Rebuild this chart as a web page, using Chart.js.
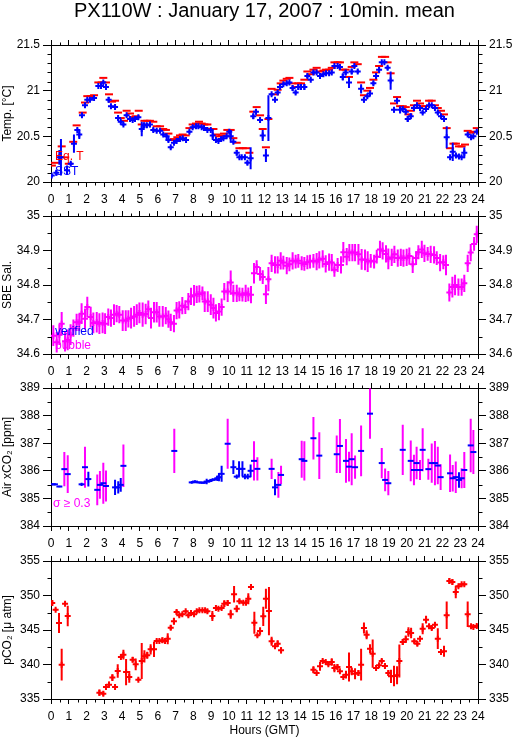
<!DOCTYPE html>
<html><head><meta charset="utf-8">
<script src="https://cdn.jsdelivr.net/npm/chart.js@4/dist/chart.umd.min.js"></script>
<style>
html,body{margin:0;padding:0;background:#fff;}
body{width:515px;height:739px;position:relative;overflow:hidden;}
canvas{position:absolute;left:0;}
</style></head><body>
<canvas id="c1" style="top:0px;width:515px;height:205px" width="515" height="205"></canvas>
<canvas id="c2" style="top:205px;width:515px;height:172px" width="515" height="172"></canvas>
<canvas id="c3" style="top:377px;width:515px;height:172px" width="515" height="172"></canvas>
<canvas id="c4" style="top:549px;width:515px;height:190px" width="515" height="190"></canvas>
<script>
// ---------- DATA (hour GMT, value, sigma) ----------
const sst = [[0.04,20.07,0.015],[0.3,20.1,0.03],[0.47,20.27,0.08],[0.56,20.27,0.2],[0.9,20.13,0.05],[1.11,20.2,0.015],[1.29,20.42,0.1],[1.48,20.57,0.015],[1.59,20.52,0.05],[1.74,20.73,0.02],[1.91,20.84,0.02],[2.04,20.9,0.015],[2.19,20.9,0.015],[2.42,20.92,0.015],[2.66,21.05,0.01],[2.81,21.05,0.01],[2.94,21.09,0.01],[3.09,21.04,0.015],[3.24,20.9,0.03],[3.37,20.83,0.015],[3.6,20.82,0.02],[3.77,20.7,0.02],[3.92,20.66,0.015],[4.07,20.63,0.015],[4.25,20.73,0.015],[4.44,20.69,0.015],[4.59,20.68,0.015],[4.72,20.69,0.015],[4.91,20.71,0.015],[5.1,20.58,0.08],[5.23,20.62,0.03],[5.38,20.62,0.03],[5.56,20.63,0.03],[5.75,20.57,0.02],[5.94,20.56,0.015],[6.13,20.56,0.015],[6.31,20.52,0.015],[6.5,20.5,0.015],[6.6,20.46,0.02],[6.73,20.38,0.015],[6.91,20.43,0.015],[7.06,20.45,0.015],[7.25,20.47,0.015],[7.4,20.48,0.015],[7.59,20.46,0.015],[7.78,20.55,0.015],[7.96,20.6,0.015],[8.15,20.61,0.01],[8.28,20.61,0.01],[8.47,20.6,0.01],[8.6,20.59,0.01],[8.79,20.57,0.015],[8.98,20.57,0.015],[9.09,20.51,0.05],[9.27,20.46,0.015],[9.41,20.45,0.015],[9.56,20.47,0.015],[9.69,20.48,0.015],[9.87,20.5,0.015],[10.02,20.55,0.02],[10.1,20.5,0.07],[10.25,20.44,0.015],[10.44,20.32,0.03],[10.59,20.27,0.01],[10.72,20.27,0.01],[10.9,20.27,0.01],[11.04,20.21,0.02],[11.22,20.26,0.12],[11.37,20.72,0.03],[11.52,20.77,0.03],[11.75,20.68,0.02],[11.9,20.51,0.06],[12.08,20.29,0.07],[12.22,20.7,0.25],[12.4,20.96,0.015],[12.59,20.9,0.02],[12.74,20.98,0.02],[12.87,21.04,0.015],[13.06,21.07,0.01],[13.25,21.08,0.01],[13.4,21.09,0.01],[13.58,21.03,0.03],[13.75,20.98,0.02],[13.9,21.04,0.03],[14.05,21.04,0.03],[14.24,21.04,0.03],[14.41,21.16,0.02],[14.6,21.12,0.01],[14.75,21.2,0.02],[14.93,21.2,0.01],[15.12,21.16,0.01],[15.31,21.18,0.01],[15.46,21.19,0.01],[15.63,21.19,0.01],[15.78,21.2,0.01],[15.93,21.27,0.01],[16.11,21.27,0.01],[16.24,21.26,0.02],[16.4,21.15,0.04],[16.56,21.2,0.03],[16.75,21.09,0.06],[16.9,21.21,0.03],[17.05,21.27,0.01],[17.24,21.21,0.02],[17.43,21.02,0.05],[17.59,20.9,0.03],[17.78,20.94,0.015],[17.93,20.97,0.015],[18.12,21.08,0.02],[18.27,21.16,0.02],[18.44,21.23,0.03],[18.59,21.31,0.01],[18.74,21.31,0.01],[18.92,21.25,0.02],[19.09,21.11,0.1],[19.28,20.79,0.03],[19.45,20.89,0.02],[19.62,20.79,0.04],[19.77,20.8,0.015],[19.94,20.77,0.02],[20.05,20.69,0.03],[20.22,20.72,0.03],[20.4,20.81,0.015],[20.57,20.84,0.015],[20.74,20.81,0.02],[20.89,20.76,0.015],[21.08,20.8,0.015],[21.25,20.84,0.015],[21.4,20.84,0.015],[21.58,20.81,0.015],[21.74,20.76,0.02],[21.92,20.72,0.02],[22.09,20.69,0.015],[22.24,20.49,0.12],[22.43,20.27,0.01],[22.58,20.33,0.1],[22.76,20.29,0.015],[22.93,20.28,0.01],[23.08,20.27,0.01],[23.23,20.32,0.06],[23.42,20.52,0.015],[23.61,20.49,0.01],[23.74,20.5,0.01],[23.93,20.55,0.02]];

const eqT = [[0.05,20.18],[0.22,20.21],[0.6,20.39],[0.8,20.27],[1.0,20.2],[1.25,20.44],[1.44,20.62],[1.78,20.76],[1.91,20.87],[2.04,20.94],[2.23,20.94],[2.42,20.95],[2.66,21.09],[2.85,21.09],[2.94,21.14],[3.09,21.09],[3.26,20.96],[3.43,20.88],[3.6,20.89],[3.77,20.76],[3.92,20.7],[4.1,20.67],[4.25,20.78],[4.44,20.75],[4.59,20.71],[4.76,20.72],[4.93,20.78],[5.1,20.63],[5.25,20.67],[5.41,20.67],[5.56,20.67],[5.75,20.66],[5.94,20.61],[6.13,20.61],[6.31,20.58],[6.46,20.57],[6.6,20.53],[6.74,20.46],[6.91,20.47],[7.1,20.49],[7.25,20.51],[7.4,20.52],[7.57,20.51],[7.78,20.59],[7.96,20.63],[8.15,20.64],[8.32,20.66],[8.47,20.64],[8.62,20.63],[8.79,20.63],[8.98,20.58],[9.13,20.58],[9.28,20.52],[9.45,20.5],[9.6,20.51],[9.72,20.53],[9.91,20.57],[10.1,20.57],[10.25,20.48],[10.44,20.43],[10.59,20.37],[10.78,20.37],[10.96,20.37],[11.15,20.32],[11.37,20.77],[11.56,20.82],[11.75,20.73],[11.9,20.58],[12.08,20.38],[12.22,20.69],[12.4,21.02],[12.59,20.96],[12.74,21.01],[12.91,21.08],[13.06,21.11],[13.25,21.13],[13.4,21.14],[13.58,21.08],[13.75,21.04],[13.9,21.08],[14.05,21.08],[14.24,21.12],[14.41,21.21],[14.6,21.18],[14.75,21.23],[14.93,21.25],[15.12,21.21],[15.31,21.22],[15.46,21.23],[15.63,21.23],[15.78,21.25],[15.93,21.31],[16.11,21.31],[16.24,21.31],[16.4,21.23],[16.56,21.23],[16.75,21.15],[16.9,21.26],[17.05,21.31],[17.24,21.29],[17.43,21.09],[17.59,20.95],[17.78,21.0],[17.93,21.03],[18.12,21.12],[18.27,21.2],[18.44,21.27],[18.6,21.37],[18.78,21.37],[18.92,21.31],[19.09,21.19],[19.28,20.86],[19.45,20.93],[19.62,20.83],[19.77,20.83],[19.94,20.82],[20.09,20.74],[20.22,20.78],[20.4,20.84],[20.57,20.89],[20.74,20.86],[20.89,20.83],[21.08,20.83],[21.25,20.89],[21.4,20.89],[21.58,20.84],[21.74,20.81],[21.92,20.78],[22.09,20.74],[22.24,20.59],[22.43,20.37],[22.62,20.42],[22.76,20.42],[22.93,20.39],[23.08,20.39],[23.27,20.41],[23.42,20.56],[23.61,20.54],[23.78,20.55],[23.93,20.59]];

const salinity = [[0.13,34.653,0.03],[0.32,34.634,0.03],[0.47,34.656,0.03],[0.6,34.688,0.034],[0.79,34.637,0.03],[0.94,34.641,0.03],[1.1,34.656,0.03],[1.26,34.675,0.025],[1.44,34.692,0.025],[1.59,34.692,0.025],[1.72,34.717,0.03],[1.91,34.702,0.03],[2.04,34.736,0.03],[2.23,34.707,0.03],[2.38,34.69,0.03],[2.57,34.692,0.03],[2.72,34.688,0.03],[2.9,34.69,0.03],[3.04,34.688,0.03],[3.22,34.707,0.025],[3.37,34.704,0.025],[3.54,34.714,0.03],[3.69,34.717,0.025],[3.84,34.714,0.025],[4.03,34.697,0.03],[4.2,34.697,0.03],[4.35,34.702,0.025],[4.5,34.704,0.03],[4.67,34.709,0.03],[4.82,34.714,0.03],[4.97,34.719,0.03],[5.15,34.714,0.035],[5.32,34.716,0.03],[5.47,34.73,0.025],[5.62,34.704,0.03],[5.79,34.721,0.03],[5.94,34.721,0.03],[6.09,34.709,0.03],[6.28,34.709,0.03],[6.45,34.711,0.025],[6.6,34.701,0.025],[6.73,34.692,0.025],[6.91,34.688,0.025],[7.06,34.726,0.025],[7.21,34.728,0.025],[7.38,34.74,0.025],[7.55,34.736,0.02],[7.72,34.752,0.025],[7.87,34.767,0.025],[8.04,34.77,0.03],[8.19,34.773,0.025],[8.34,34.774,0.025],[8.51,34.776,0.02],[8.64,34.752,0.03],[8.81,34.752,0.03],[8.98,34.743,0.03],[9.13,34.733,0.03],[9.27,34.719,0.025],[9.44,34.723,0.025],[9.59,34.736,0.025],[9.74,34.781,0.025],[9.93,34.781,0.03],[10.1,34.807,0.035],[10.25,34.776,0.025],[10.44,34.776,0.025],[10.59,34.773,0.02],[10.76,34.772,0.02],[10.94,34.776,0.025],[11.09,34.773,0.02],[11.24,34.772,0.025],[11.41,34.834,0.03],[11.56,34.852,0.02],[11.75,34.832,0.02],[11.9,34.823,0.02],[12.08,34.773,0.028],[12.22,34.817,0.035],[12.4,34.863,0.025],[12.59,34.858,0.025],[12.74,34.858,0.025],[12.91,34.87,0.025],[13.06,34.865,0.02],[13.25,34.856,0.025],[13.4,34.86,0.02],[13.58,34.87,0.025],[13.75,34.868,0.02],[13.9,34.87,0.02],[14.09,34.863,0.02],[14.24,34.861,0.02],[14.41,34.866,0.02],[14.56,34.868,0.02],[14.75,34.87,0.02],[14.93,34.868,0.025],[15.08,34.873,0.025],[15.27,34.876,0.025],[15.44,34.861,0.025],[15.63,34.866,0.025],[15.78,34.865,0.025],[15.93,34.844,0.02],[16.11,34.858,0.02],[16.3,34.858,0.025],[16.43,34.895,0.03],[16.62,34.882,0.025],[16.77,34.894,0.025],[16.94,34.894,0.025],[17.09,34.894,0.025],[17.28,34.889,0.03],[17.46,34.874,0.03],[17.65,34.873,0.03],[17.8,34.868,0.03],[17.97,34.87,0.02],[18.16,34.868,0.02],[18.31,34.882,0.02],[18.49,34.903,0.025],[18.64,34.899,0.025],[18.83,34.89,0.025],[18.96,34.876,0.03],[19.15,34.88,0.025],[19.3,34.889,0.025],[19.49,34.878,0.025],[19.66,34.88,0.025],[19.81,34.878,0.025],[19.99,34.88,0.025],[20.14,34.884,0.025],[20.33,34.86,0.025],[20.52,34.878,0.02],[20.65,34.895,0.02],[20.84,34.903,0.025],[20.99,34.892,0.025],[21.17,34.89,0.02],[21.34,34.889,0.025],[21.53,34.887,0.025],[21.68,34.878,0.02],[21.87,34.865,0.025],[22.05,34.866,0.02],[22.2,34.858,0.03],[22.39,34.778,0.026],[22.56,34.794,0.03],[22.71,34.8,0.03],[22.9,34.794,0.025],[23.08,34.794,0.025],[23.23,34.805,0.025],[23.42,34.863,0.025],[23.59,34.894,0.025],[23.78,34.919,0.02],[23.93,34.947,0.025]];

const airXco2 = [[0.09,385.51,0.03],[0.22,385.51,0.03],[0.47,385.43,0.03],[0.75,386.06,0.62],[0.94,385.88,0.68],[1.72,385.51,0.06],[1.91,386.13,0.74],[2.1,385.7,0.27],[2.6,385.31,0.56],[2.75,385.49,0.5],[2.94,385.55,0.74],[3.09,385.45,0.56],[3.6,385.4,0.28],[3.78,385.4,0.22],[3.92,385.49,0.25],[4.07,386.18,0.77],[6.93,386.72,0.8],[7.91,385.58,0.05],[8.09,385.61,0.05],[8.28,385.58,0.03],[8.47,385.57,0.03],[8.6,385.57,0.03],[8.75,385.61,0.1],[8.9,385.63,0.05],[9.07,385.67,0.05],[9.22,385.69,0.03],[9.35,385.73,0.1],[9.44,385.77,0.15],[9.59,385.89,0.29],[9.93,386.98,0.91],[10.25,386.13,0.25],[10.44,385.79,0.08],[10.57,386.07,0.28],[10.76,386.07,0.28],[10.9,385.79,0.1],[11.06,385.79,0.1],[11.22,386.0,0.23],[11.41,386.36,0.71],[11.6,386.07,0.42],[12.4,386.07,0.37],[12.59,385.4,0.29],[12.78,385.49,0.47],[12.93,385.85,0.33],[14.09,386.42,0.67],[14.24,386.36,0.71],[14.75,387.18,0.77],[15.08,386.55,0.85],[16.06,386.6,0.68],[16.24,386.9,0.98],[16.58,386.36,0.79],[16.75,386.15,0.54],[16.9,386.42,0.94],[17.09,386.13,0.42],[17.43,386.72,0.92],[17.93,388.07,0.91],[18.59,386.28,0.55],[18.78,385.67,0.41],[18.96,385.55,0.44],[19.77,386.76,0.91],[20.22,386.36,0.74],[20.4,386.03,0.55],[20.55,386.28,0.59],[20.74,386.03,0.36],[20.89,386.76,0.78],[21.21,386.06,0.38],[21.4,386.28,0.71],[21.58,386.28,0.8],[21.74,386.19,0.68],[21.9,385.77,0.47],[22.43,385.91,0.68],[22.58,385.73,0.48],[22.75,385.77,0.57],[22.93,385.67,0.28],[23.08,385.73,0.36],[23.23,386.03,0.65],[23.59,386.92,0.97],[23.74,386.68,0.8]];

const pco2 = [[0.07,348.91,0.4],[0.26,347.95,0.15],[0.45,346.01,1.45],[0.6,339.98,2.3],[0.79,348.82,0.15],[0.94,347.03,1.5],[2.72,335.92,0.45],[2.94,335.77,0.3],[3.09,336.74,0.2],[3.26,337.08,0.45],[3.45,338.1,0.5],[3.6,336.74,0.2],[3.75,339.06,0.97],[3.93,341.09,0.2],[4.07,341.42,0.7],[4.22,338.91,1.9],[4.4,338.19,0.85],[4.59,340.7,0.4],[4.76,340.02,0.85],[4.91,337.8,0.2],[5.1,340.5,2.6],[5.25,341.18,0.9],[5.41,341.33,0.5],[5.6,342.2,0.75],[5.79,342.2,1.1],[5.94,343.41,0.2],[6.09,343.41,0.2],[6.26,343.5,0.4],[6.41,343.41,0.2],[6.56,343.74,0.8],[6.73,345.34,0.35],[6.91,346.26,0.5],[7.06,347.6,0.35],[7.21,347.13,0.2],[7.38,347.27,0.2],[7.57,347.71,0.2],[7.72,347.13,0.2],[7.87,347.46,0.3],[8.04,347.27,0.2],[8.19,347.71,0.2],[8.34,347.85,0.2],[8.51,347.85,0.2],[8.66,347.85,0.2],[8.79,347.71,0.3],[9.07,347.03,0.72],[9.27,348.19,0.2],[9.41,348.09,0.2],[9.59,348.19,0.2],[9.74,348.82,0.5],[9.93,348.91,0.4],[10.1,347.27,0.65],[10.29,350.17,1.2],[10.44,348.09,0.5],[10.59,349.15,0.3],[10.81,348.96,0.2],[10.96,348.96,0.2],[11.09,349.54,0.8],[11.24,351.23,0.45],[11.43,346.06,1.6],[11.6,344.23,0.2],[11.75,344.86,0.55],[11.93,346.98,1.4],[12.08,349.54,1.45],[12.25,347.75,3.5],[12.4,343.36,0.65],[12.59,342.63,0.3],[12.74,343.02,0.5],[12.93,342.05,0.45],[14.75,339.25,0.5],[14.93,338.77,0.2],[15.12,339.73,0.65],[15.27,340.51,0.2],[15.44,340.36,0.2],[15.59,340.02,0.2],[15.78,340.36,0.55],[15.93,339.49,0.6],[16.1,339.64,0.4],[16.24,339.01,0.2],[16.43,338.19,0.2],[16.58,338.53,0.55],[16.75,339.64,2.1],[16.9,339.01,0.55],[17.09,338.67,0.8],[17.28,338.77,0.4],[17.43,339.98,2.3],[17.59,345.29,0.8],[17.74,344.32,0.65],[17.93,342.29,0.65],[18.08,341.57,2.05],[18.27,339.49,0.2],[18.44,339.88,0.3],[18.59,340.51,0.3],[18.77,339.78,0.3],[18.96,338.77,0.4],[19.11,338.28,0.97],[19.28,338.33,1.5],[19.45,338.43,1.3],[19.58,340.5,2.4],[19.77,343.26,0.45],[19.94,343.65,0.55],[20.09,344.71,0.7],[20.24,344.57,0.75],[20.42,343.36,0.3],[20.59,343.02,0.3],[20.74,343.74,0.4],[20.89,345.19,0.8],[21.08,346.5,0.55],[21.25,345.53,0.3],[21.4,345.29,0.3],[21.58,345.77,0.3],[21.74,343.74,1.5],[21.92,341.81,0.3],[22.09,341.91,0.8],[22.24,347.13,2.0],[22.39,352.1,0.4],[22.56,351.96,0.4],[22.75,350.51,0.9],[22.9,351.33,0.2],[23.08,351.62,0.2],[23.23,351.62,0.2],[23.42,347.27,1.85],[23.61,345.53,0.2],[23.74,345.43,0.2],[23.93,345.58,0.3]];

const hourRange = [0, 24];
const tempRange = [20, 21.5, 0.5, 0.1];
const salRange = [34.6, 35, 0.1, 0.05];
const xco2Range = [384, 389, 1, 0.5];
const pco2Range = [335, 355, 5, 2.5];
const sigmaLimit = 0.3;

// ---------- RENDERING ----------
const FONT = '"Liberation Sans", Arial, Helvetica, sans-serif';
Chart.defaults.font.family = FONT;
Chart.defaults.font.size = 12;
Chart.defaults.color = '#000';
const BLUE = '#0000ff', RED = '#ff0000', MAG = '#ff00ff';

function pts(rows){ return rows.map(r => ({x: r[0], y: r[1]})); }
function bars(rows, keep){
  const out = [];
  rows.forEach(r => {
    const e = r[2] || 0;
    if (keep && !keep(e)) return;
    out.push({x: r[0], y: r[1] - e}, {x: r[0], y: r[1] + e}, {x: r[0], y: null});
  });
  return out;
}
function barSet(data, color){
  return {data, showLine: true, borderColor: color, backgroundColor: color, borderWidth: 2,
          pointRadius: 0, spanGaps: false};
}
function markSet(data, color, style, r){
  return {data, showLine: false, pointStyle: style, pointRadius: r, borderColor: color,
          backgroundColor: color, borderWidth: 2, pointBorderWidth: 2};
}
const fmt = v => String(Math.round(v * 1000) / 1000);

const minorTicks = {
  id: 'minorTicks',
  afterDraw(chart, args, opts){
    const ctx = chart.ctx;
    ctx.save(); ctx.strokeStyle = '#000'; ctx.lineWidth = 1;
    (opts.list || []).forEach(m => {
      const s = chart.scales[m.id]; if (!s) return;
      const n = Math.round((s.max - s.min) / m.step);
      ctx.beginPath();
      for (let k = 0; k <= n; k++){
        const v = s.min + k * m.step;
        const q = v / m.major;
        if (Math.abs(q - Math.round(q)) < 1e-6) continue;
        const p = Math.round(s.getPixelForValue(v)) + 0.5;
        const pos = s.options.position;
        if (pos === 'left'){ const b = Math.round(s.right) + 0.5; ctx.moveTo(b - m.len, p); ctx.lineTo(b, p); }
        else if (pos === 'right'){ const b = Math.round(s.left) + 0.5; ctx.moveTo(b, p); ctx.lineTo(b + m.len, p); }
        else if (pos === 'top'){ const b = Math.round(s.bottom) + 0.5; ctx.moveTo(p, b - m.len); ctx.lineTo(p, b); }
        else { const b = Math.round(s.top) + 0.5; ctx.moveTo(p, b); ctx.lineTo(p, b + m.len); }
      }
      ctx.stroke();
    });
    ctx.restore();
  }
};
const notes = {
  id: 'notes',
  afterDraw(chart, args, opts){
    const {ctx, chartArea: a} = chart;
    ctx.save();
    ctx.font = '12px ' + FONT; ctx.textBaseline = 'middle'; ctx.textAlign = 'left';
    (opts.items || []).forEach(it => { ctx.fillStyle = it.color; ctx.fillText(it.text, a.left + it.dx, a.bottom + it.dy); });
    ctx.restore();
  }
};

function axes(o){
  const tickFont = {family: FONT, size: 12};
  const gridX = {drawOnChartArea: false, drawTicks: true, tickLength: 5, color: '#000', tickColor: '#000', lineWidth: 1};
  const gridY = {drawOnChartArea: false, drawTicks: true, tickLength: 8, color: '#000', tickColor: '#000', lineWidth: 1};
  const border = {display: true, color: '#000', width: 1};
  const [ymin, ymax, ystep] = o.range;
  return {
    x: {type: 'linear', position: 'bottom', min: hourRange[0], max: hourRange[1],
        afterFit: s => { s.height = o.bottomH; },
        ticks: {stepSize: 1, autoSkip: false, maxRotation: 0, padding: 5, font: tickFont, color: '#000'},
        grid: gridX, border,
        title: o.xTitle ? {display: true, text: o.xTitle, font: {family: FONT, size: 12}, color: '#000', padding: {top: 0, bottom: 1}} : {display: false}},
    x2: {type: 'linear', position: 'top', display: true, min: hourRange[0], max: hourRange[1],
        afterFit: s => { s.height = o.topH; },
        ticks: {stepSize: 1, autoSkip: false, maxRotation: 0, callback: () => ''},
        grid: gridX, border,
        title: o.mainTitle ? {display: true, text: o.mainTitle, font: {family: FONT, size: 20, lineHeight: 1}, color: '#000', padding: {top: 1, bottom: 0}} : {display: false}},
    y: {type: 'linear', position: 'left', min: ymin, max: ymax,
        afterFit: s => { s.width = 51; },
        ticks: {stepSize: ystep, padding: 3, font: tickFont, color: '#000', callback: fmt},
        grid: gridY, border,
        title: {display: true, text: o.yTitle, font: {family: FONT, size: 12}, color: '#000', padding: {top: 0, bottom: 0}}},
    y2: {type: 'linear', position: 'right', display: true, min: ymin, max: ymax,
        afterFit: s => { s.width = 37; },
        ticks: {stepSize: ystep, padding: 3, font: tickFont, color: '#000', callback: fmt},
        grid: gridY, border}
  };
}

function makeChart(id, datasets, o, noteItems){
  const r = o.range;
  return new Chart(document.getElementById(id), {
    type: 'scatter',
    data: {datasets},
    options: {
      responsive: false, animation: false, events: [],
      layout: {padding: 0},
      scales: axes(o),
      plugins: {
        legend: {display: false}, tooltip: {enabled: false}, title: {display: false},
        minorTicks: {list: [
          {id: 'x', step: 0.5, major: 1, len: 3}, {id: 'x2', step: 0.5, major: 1, len: 3},
          {id: 'y', step: r[3], major: r[2], len: 4}, {id: 'y2', step: r[3], major: r[2], len: 4}]},
        notes: {items: noteItems}
      }
    },
    plugins: [minorTicks, notes]
  });
}

makeChart('c1', [
  barSet(bars(sst), BLUE),
  markSet(pts(sst), BLUE, 'cross', 3),
  markSet(pts(eqT), RED, 'line', 4)
], {range: tempRange, yTitle: 'Temp. [°C]', topH: 45, bottomH: 23,
    mainTitle: 'PX110W : January 17, 2007 : 10min. mean'},
  [{text: 'Eq. T', color: RED, dx: 4, dy: -25}, {text: 'SST', color: BLUE, dx: 4, dy: -10}]);

makeChart('c2', [
  barSet(bars(salinity), MAG),
  markSet(pts(salinity), MAG, 'cross', 3)
], {range: salRange, yTitle: 'SBE Sal.', topH: 11, bottomH: 23},
  [{text: 'verified', color: BLUE, dx: 4, dy: -22}, {text: 'bubble', color: MAG, dx: 4, dy: -8}]);

makeChart('c3', [
  markSet(pts(airXco2), BLUE, 'line', 3),
  barSet(bars(airXco2, e => e < sigmaLimit), BLUE),
  barSet(bars(airXco2, e => e >= sigmaLimit), MAG)
], {range: xco2Range, yTitle: 'Air xCO₂ [ppm]', topH: 11, bottomH: 23},
  [{text: 'σ ≥ 0.3', color: MAG, dx: 2, dy: -22}]);

makeChart('c4', [
  barSet(bars(pco2), RED),
  markSet(pts(pco2), RED, 'cross', 3)
], {range: pco2Range, yTitle: 'pCO₂ [μ atm]', topH: 12, bottomH: 40, xTitle: 'Hours (GMT)'}, []);
</script>
</body></html>
